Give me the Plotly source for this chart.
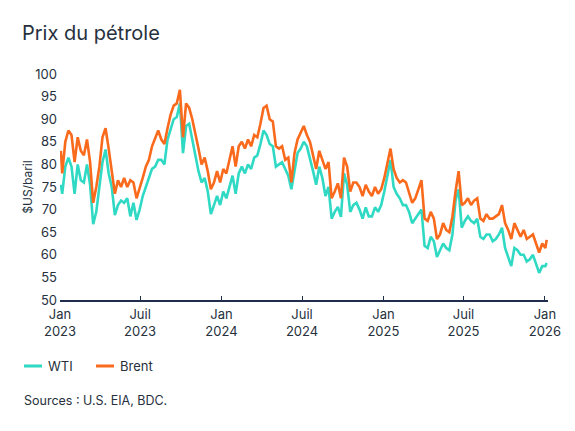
import pandas as pd
import plotly.graph_objects as go

# Weekly sample dates (Fridays) plus first and last observation
dates = (["2023-01-03"]
         + [d.strftime("%Y-%m-%d") for d in pd.date_range("2023-01-06", periods=157, freq="7D")]
         + ["2026-01-05"])

brent = [83.0,
    78.0, 85.0, 87.5, 86.5, 80.5, 86.0, 83.0, 82.0, 85.5, 80.5, 71.5, 75.0, 79.5,
    86.0, 88.0, 83.5, 79.0, 73.5, 76.5, 75.0, 77.0, 75.0, 76.5, 76.0, 72.5, 74.5,
    77.0, 79.5, 81.0, 84.0, 86.0, 87.5, 85.5, 84.5, 88.0, 91.0, 93.0, 93.5, 96.5,
    86.0, 93.5, 92.5, 90.0, 87.0, 83.5, 80.0, 81.5, 78.5, 74.5, 76.0, 78.5, 76.0,
    79.0, 78.0, 81.0, 84.0, 79.5, 84.0, 85.0, 83.5, 85.5, 84.0, 86.5, 86.0, 89.0,
    92.5, 93.0, 90.0, 89.5, 84.0, 83.5, 84.0, 81.0, 81.5, 76.0, 82.5, 85.5, 87.0,
    88.5, 86.5, 85.0, 82.0, 79.0, 83.0, 81.0, 79.0, 80.5, 72.5, 74.0, 75.8, 72.5,
    81.5, 79.5, 74.0, 76.0, 76.0, 75.0, 73.0, 75.5, 74.0, 73.0, 75.0, 73.5, 74.5,
    77.0, 80.5, 83.5, 79.0, 77.0, 76.0, 76.5, 76.0, 74.0, 71.5, 72.5, 74.5, 76.5,
    68.0, 67.5, 69.5, 68.0, 63.5, 64.5, 67.0, 65.5, 65.0, 68.5, 74.0, 78.5, 71.0,
    71.5, 72.5, 71.0, 72.0, 72.5, 68.0, 67.5, 69.0, 68.0, 68.0, 68.5, 69.0, 71.0,
    67.0, 65.5, 63.5, 67.0, 65.5, 64.0, 65.5, 63.5, 64.0, 64.5, 62.5, 60.5, 62.5,
    61.5, 63.3]

wti = [75.5,
    73.5, 79.5, 81.5, 79.5, 73.5, 80.0, 76.5, 76.0, 80.0, 75.5, 66.8, 69.5, 75.5,
    80.5, 83.3, 78.0, 75.0, 68.8, 71.0, 72.0, 71.5, 72.5, 68.5, 71.5, 67.7, 70.0,
    73.0, 75.0, 77.0, 79.0, 79.5, 81.0, 81.0, 80.0, 85.5, 88.0, 90.0, 90.5, 93.5,
    82.5, 88.5, 89.0, 85.5, 82.5, 78.5, 76.0, 77.0, 74.0, 69.0, 71.0, 73.0, 71.0,
    74.0, 72.5, 75.0, 77.5, 73.5, 78.0, 79.5, 78.0, 80.0, 79.0, 81.5, 82.0, 84.5,
    87.5, 86.5, 84.5, 84.0, 79.5, 80.0, 80.5, 79.0, 77.5, 74.5, 79.0, 82.5, 83.5,
    85.0, 84.0, 81.5, 78.5, 75.5, 79.5, 77.0, 73.0, 75.0, 68.0, 69.5, 70.6, 68.4,
    78.0, 75.5, 69.5, 71.0, 71.5, 70.0, 68.0, 70.5, 68.5, 68.5, 70.5, 69.5, 71.0,
    74.0, 77.5, 81.0, 75.0, 73.5, 72.5, 71.0, 71.0, 69.5, 67.0, 68.0, 69.0, 70.0,
    62.0, 61.5, 64.0, 63.0, 59.5, 61.0, 62.5, 61.5, 61.0, 64.5, 72.0, 74.5, 66.0,
    67.5, 68.5, 67.5, 67.0, 68.0, 64.0, 63.5, 64.5, 64.5, 63.0, 63.5, 64.5, 66.0,
    61.5, 59.5, 57.5, 61.5, 61.0, 60.0, 60.0, 58.5, 59.0, 60.0, 58.0, 56.0, 57.5,
    57.5, 58.2]

series_names = ["WTI", "Brent"]

tick_dates = ["2023-01-01", "2023-07-01", "2024-01-01", "2024-07-01",
              "2025-01-01", "2025-07-01", "2026-01-01"]
tick_labels = ["Jan<br>2023", "Juil<br>2023", "Jan<br>2024", "Juil<br>2024",
               "Jan<br>2025", "Juil<br>2025", "Jan<br>2026"]
y_ticks = list(range(50, 101, 5))

TEAL = "#2fd9c4"
ORANGE = "#fa6a1c"
DARK = "#26313d"
AXIS = "#1f2d4d"
FONT = "Inter, Noto Sans, sans-serif"
W, H = 575, 431
ML, MR, MT, MB = 60, 27, 74, 131
PW, PH = W - ML - MR, H - MT - MB


def px_x(x):
    return (x - ML) / PW


def px_y(y):
    return (H - MB - y) / PH


fig = go.Figure()
fig.add_trace(go.Scatter(x=dates, y=wti, name=series_names[0], mode="lines",
                         line=dict(color=TEAL, width=2.6), showlegend=False))
fig.add_trace(go.Scatter(x=dates, y=brent, name=series_names[1], mode="lines",
                         line=dict(color=ORANGE, width=2.6), showlegend=False))

# Custom legend (short line swatches) + source note
shapes = []
annotations = []
legend_items = [(series_names[0], TEAL, 24), (series_names[1], ORANGE, 96)]
for name, color, x0 in legend_items:
    shapes.append(dict(type="line", xref="paper", yref="paper",
                       x0=px_x(x0), x1=px_x(x0 + 18), y0=px_y(366), y1=px_y(366),
                       line=dict(color=color, width=3)))
    annotations.append(dict(text=name, xref="paper", yref="paper",
                            x=px_x(x0 + 22), y=px_y(366), xanchor="left",
                            yanchor="middle", showarrow=False,
                            font=dict(size=13, color=DARK)))
annotations.append(dict(text="Sources : U.S. EIA, BDC.", xref="paper", yref="paper",
                        x=px_x(22), y=px_y(400), xanchor="left", yanchor="middle",
                        showarrow=False, font=dict(size=12.5, color=DARK)))

fig.update_layout(
    width=W, height=H,
    paper_bgcolor="white", plot_bgcolor="white",
    margin=dict(l=ML, r=MR, t=MT, b=MB),
    font=dict(family=FONT, color=DARK, size=12),
    title=dict(text="Prix du pétrole", x=22 / W, xref="container", xanchor="left",
               y=1 - 33 / H, yref="container", yanchor="middle",
               font=dict(size=20, color=DARK, family=FONT)),
    showlegend=False,
    shapes=shapes,
    annotations=annotations,
)

fig.update_xaxes(
    type="date", range=["2023-01-01", "2026-01-08"],
    tickvals=tick_dates, ticktext=tick_labels,
    showgrid=False, zeroline=False,
    showline=True, linecolor=AXIS, linewidth=2,
    ticks="inside", ticklen=4, tickcolor=AXIS, tickwidth=1,
    tickfont=dict(size=13, color=DARK), ticklabelstandoff=1,
)
fig.update_yaxes(
    range=[50, 100], tickvals=y_ticks,
    showgrid=False, zeroline=False, showline=False,
    ticks="", tickfont=dict(size=13, color=DARK), ticklabelstandoff=2,
    title=dict(text="$US/baril", font=dict(size=12, color=DARK), standoff=0),
)

fig.write_html("out.html", config={"displayModeBar": False},
               post_script="document.body.style.margin='0';")
